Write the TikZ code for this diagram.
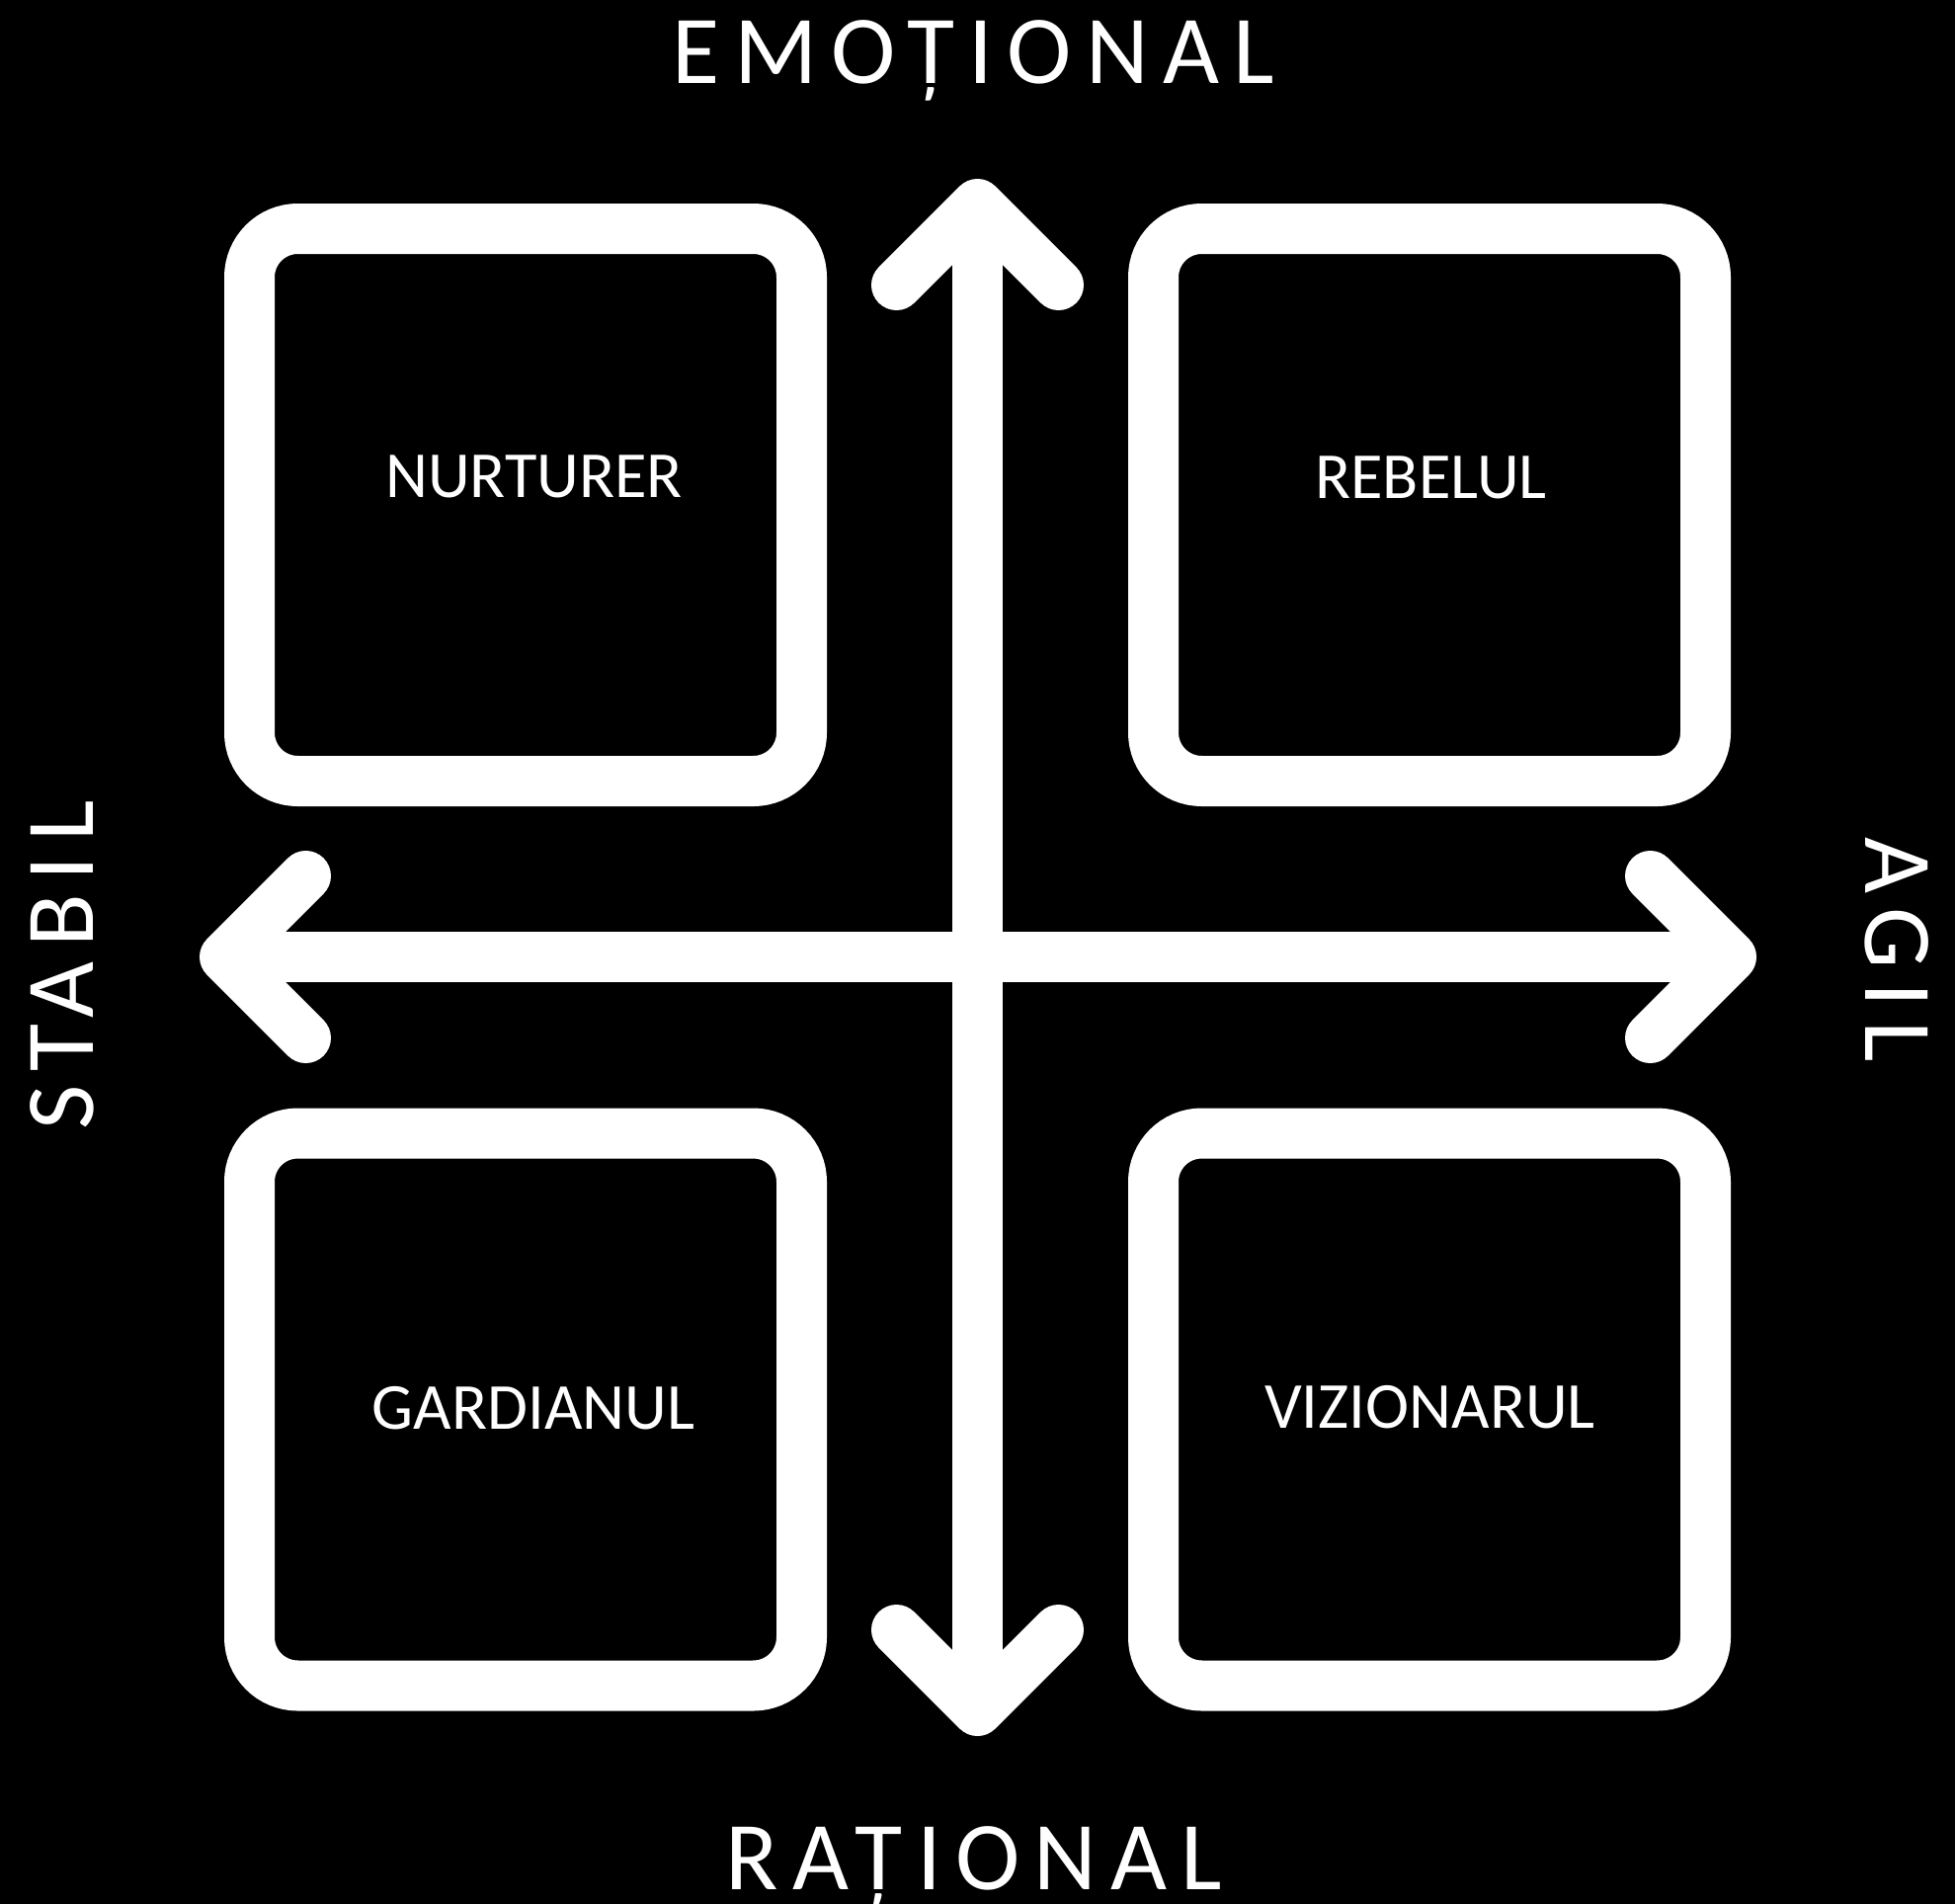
\documentclass[tikz,border=0pt]{standalone}
\usepackage{fontspec}
\setmainfont{Carlito}
\newfontfamily\spacedfont[LetterSpace=14.5]{Carlito}
\usetikzlibrary{calc}
\begin{document}
\begin{tikzpicture}[x=1pt,y=-1pt,
  quad/.style={draw=white, line width=51pt, rounded corners=49pt, minimum width=559pt, minimum height=559pt, inner sep=0pt, outer sep=0pt},
  axisline/.style={draw=white, line width=51pt},
  chevron/.style={draw=white, line width=51pt, line cap=round, line join=round},
  boxlabel/.style={text=white, font=\fontsize{66.5}{80}\selectfont, anchor=base, inner sep=0pt},
  axislabel/.style={text=white, font=\fontsize{98.5}{110}\spacedfont, anchor=base, inner sep=0pt}]
\fill[black] (0,0) rectangle (1979,1927);
\useasboundingbox (0,0) rectangle (1979,1927);
% quadrant boxes
\node[quad] (tl) at (532,511) {};
\node[quad] (tr) at (1447,511) {};
\node[quad] (bl) at (532,1426.5) {};
\node[quad] (br) at (1447,1426.5) {};
% axis ends
\coordinate (vt) at (989.5,206.5);
\coordinate (vb) at (989.5,1731.5);
\coordinate (hl) at (227.5,968.5);
\coordinate (hr) at (1752.5,968.5);
\draw[axisline] (vt) -- (vb);
\draw[axisline] (hl) -- (hr);
\draw[chevron] ($(vt)+(-82,82)$) -- (vt) -- ($(vt)+(82,82)$);
\draw[chevron] ($(vb)+(-82,-82)$) -- (vb) -- ($(vb)+(82,-82)$);
\draw[chevron] ($(hl)+(82,-82)$) -- (hl) -- ($(hl)+(82,82)$);
\draw[chevron] ($(hr)+(-82,-82)$) -- (hr) -- ($(hr)+(-82,82)$);
% box labels
\node[boxlabel] (ltl) at (540.5,503.5) {NURTURER};
\node[boxlabel] (ltr) at (1448.5,504) {REBELUL};
\node[boxlabel] (lbl) at (540,1446) {GARDIANUL};
\node[boxlabel] (lbr) at (1447.5,1445) {VIZIONARUL};
% axis labels
\node[axislabel] (emo) at (985.5,84.5) {EMOȚIONAL};
\node[axislabel] (rat) at (986,1912) {RAȚIONAL};
\node[axislabel, rotate=90] (sta) at (94.3,977) {STABIL};
\node[axislabel, rotate=-90] (agi) at (1888,961.5) {AGIL};
\end{tikzpicture}
\end{document}
